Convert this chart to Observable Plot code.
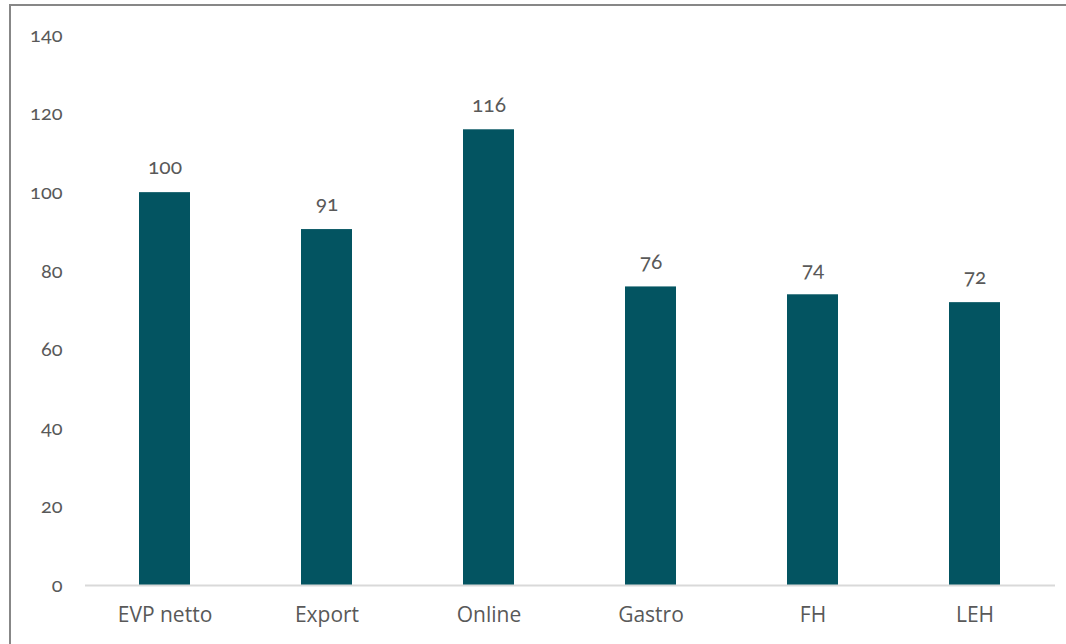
<!DOCTYPE html>
<html>
<head>
<meta charset="utf-8">
<script src="https://cdn.jsdelivr.net/npm/d3@7"></script>
<script src="https://cdn.jsdelivr.net/npm/@observablehq/plot@0.6"></script>
<style>
  html, body { margin: 0; padding: 0; background: #fff; overflow: hidden; }
  #wrap { position: relative; width: 1066px; height: 644px; overflow: hidden; }
  #frame { position: absolute; left: 9px; top: 4px; width: 1100px; height: 700px;
           border-left: 2px solid #878787; border-top: 2px solid #878787; box-sizing: border-box; }
  #chart { position: absolute; left: 0; top: 0; }
  #chart svg { font-family: Lato, "Open Sans", sans-serif; }
  #chart svg text { font-variant-numeric: oldstyle-nums !important; }
</style>
</head>
<body>
<div id="wrap"><div id="frame"></div><div id="chart"></div></div>
<script>
const categories = ["EVP netto", "Export", "Online", "Gastro", "FH", "LEH"];
const values = [100, 90.6, 116, 76, 74, 72];
const yTicks = [0, 20, 40, 60, 80, 100, 120, 140];

const data = categories.map((c, i) => ({category: c, value: values[i]}));
const barColor = "#035461";
const textColor = "#595959";

const chart = Plot.plot({
  width: 1066,
  height: 644,
  marginLeft: 85,
  marginRight: 11,
  marginTop: 35,
  marginBottom: 59,
  style: {background: "transparent", color: textColor, fontSize: "20px"},
  x: {domain: categories, paddingInner: 0.685, paddingOuter: 0.335, label: null},
  y: {domain: [0, 140], ticks: yTicks, label: null},
  marks: [
    Plot.axisY({ticks: yTicks, tickSize: 0, tickPadding: 23, fontSize: 20, fill: textColor, label: null}),
    Plot.axisX({tickSize: 0, tickPadding: 22, fontSize: 21, fill: textColor, label: null,
                fontFamily: "'Open Sans', sans-serif"}),
    Plot.barY(data, {x: "category", y: "value", fill: barColor}),
    Plot.ruleY([0], {stroke: "#d9d9d9", strokeWidth: 2}),
    Plot.text(data, {x: "category", y: "value", text: d => d3.format(".0f")(d.value),
                     dy: -25, fontSize: 21, fill: textColor})
  ]
});
document.getElementById("chart").appendChild(chart);
</script>
</body>
</html>
